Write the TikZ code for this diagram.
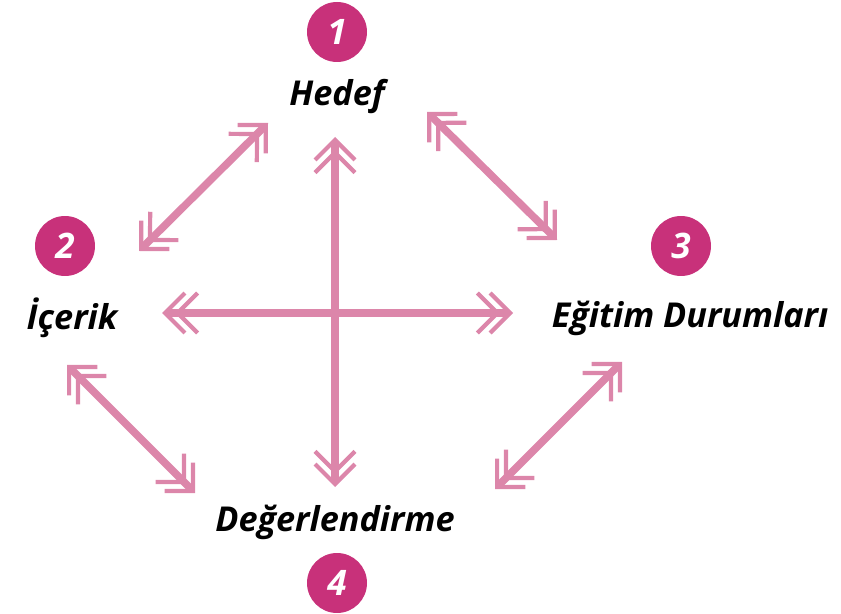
\documentclass[tikz,border=0pt]{standalone}
\usepackage{fontspec}
\setmainfont{Open Sans}
\usetikzlibrary{arrows.meta,positioning}
\definecolor{numpink}{HTML}{C8317A}
\definecolor{arrowpink}{HTML}{DC86AA}

\begin{document}
\begin{tikzpicture}[x=0.02cm,y=-0.02cm,
  numcircle/.style={circle,fill=numpink,minimum size=1.2cm,inner sep=0pt,text=white,
    font=\bfseries\itshape\fontsize{20}{20}\selectfont},
  lbl/.style={font=\bfseries\itshape\fontsize{19.5}{22}\selectfont,inner sep=0pt},
  biarrow/.style={draw=arrowpink,line width=4.3pt,
    {Straight Barb[length=0.4cm,width=0.8cm,line width=2.4pt]
     Straight Barb[length=0.4cm,width=0.8cm,line width=2.4pt,sep=-0.25cm]}-%
    {Straight Barb[length=0.4cm,width=0.8cm,line width=2.4pt,sep=-0.25cm]
     Straight Barb[length=0.4cm,width=0.8cm,line width=2.4pt]}}]
\useasboundingbox (0,0) rectangle (841,614);

% numbers and labels
\node[numcircle] (n1) at (337,32) {1};
\node[lbl] (hedef) at (337,97) {Hedef};
\node[numcircle] (n2) at (65,246) {2};
\node[lbl] (icerik) at (72,318) {İçerik};
\node[numcircle] (n3) at (681,246) {3};
\node[lbl] (egitim) at (690,318) {Eğitim Durumları};
\node[lbl] (deger) at (335,522) {Değerlendirme};
\node[numcircle] (n4) at (337,583) {4};

% arrow ends
\coordinate (vtop) at (335,137);
\coordinate (vbot) at (335,487);
\coordinate (hl) at (162,313);
\coordinate (hr) at (513,313);
\coordinate (a1) at (139,251);
\coordinate (a2) at (268,123);
\coordinate (b1) at (427,112);
\coordinate (b2) at (557,240);
\coordinate (c1) at (67,365);
\coordinate (c2) at (195,493);
\coordinate (d1) at (495,489);
\coordinate (d2) at (622,362);

\draw[biarrow] (vtop) -- (vbot);
\draw[biarrow] (hl) -- (hr);
\draw[biarrow] (a1) -- (a2);
\draw[biarrow] (b1) -- (b2);
\draw[biarrow] (c1) -- (c2);
\draw[biarrow] (d1) -- (d2);
\end{tikzpicture}
\end{document}
